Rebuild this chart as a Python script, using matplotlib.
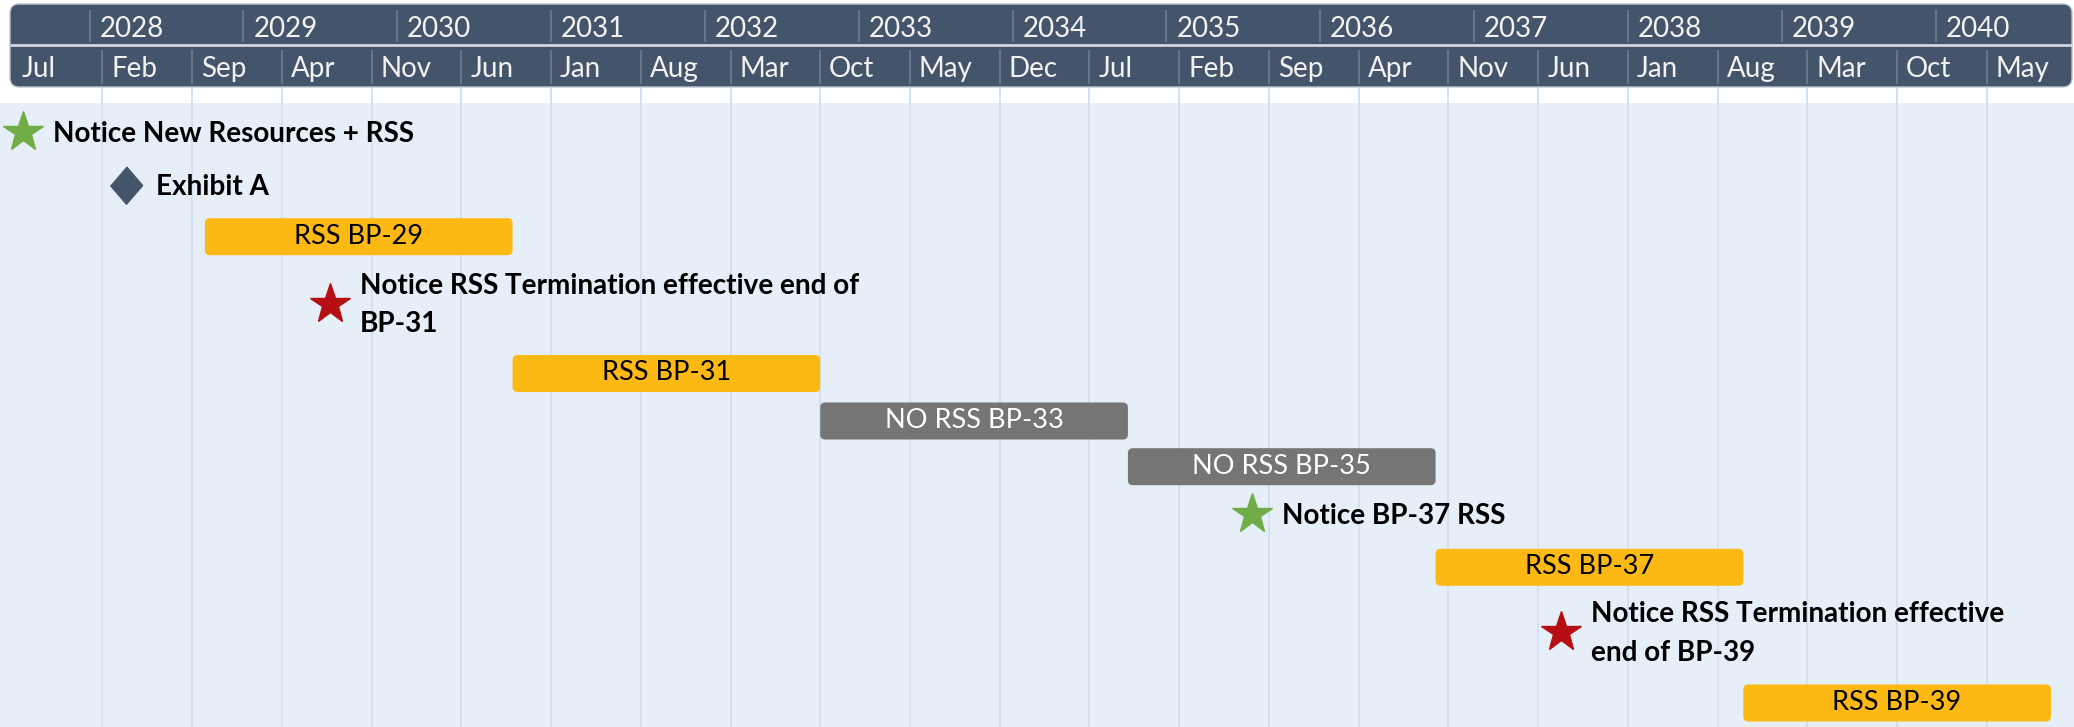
import matplotlib
matplotlib.use("Agg")
import matplotlib.pyplot as plt
from matplotlib.patches import FancyBboxPatch, Rectangle
from calendar import monthrange

plt.rcParams['font.family'] = ['Lato', 'DejaVu Sans']

# ---- data ----
year_labels = ["2028", "2029", "2030", "2031", "2032", "2033", "2034",
               "2035", "2036", "2037", "2038", "2039", "2040"]
month_ticks = ["2027-07", "2028-02", "2028-09", "2029-04", "2029-11", "2030-06",
               "2031-01", "2031-08", "2032-03", "2032-10", "2033-05", "2033-12",
               "2034-07", "2035-02", "2035-09", "2036-04", "2036-11", "2037-06",
               "2038-01", "2038-08", "2039-03", "2039-10", "2040-05"]
month_labels = ["Jul", "Feb", "Sep", "Apr", "Nov", "Jun", "Jan", "Aug", "Mar", "Oct",
                "May", "Dec", "Jul", "Feb", "Sep", "Apr", "Nov", "Jun", "Jan", "Aug",
                "Mar", "Oct", "May"]

bar_labels = ["RSS BP-29", "RSS BP-31", "NO RSS BP-33", "NO RSS BP-35", "RSS BP-37", "RSS BP-39"]
bar_start = ["2028-10-01", "2030-10-01", "2032-10-01", "2034-10-01", "2036-10-01", "2038-10-01"]
bar_end = ["2030-10-01", "2032-10-01", "2034-10-01", "2036-10-01", "2038-10-01", "2040-10-01"]
bar_kind = ["rss", "rss", "none", "none", "rss", "rss"]

ms_labels = ["Notice New Resources + RSS",
             "Exhibit A",
             "Notice RSS Termination effective end of\nBP-31",
             "Notice BP-37 RSS",
             "Notice RSS Termination effective\nend of BP-39"]
ms_dates = ["2027-07-25", "2028-03-28", "2029-07-25", "2035-07-23", "2037-07-25"]
ms_kind = ["go", "exhibit", "stop", "go", "stop"]

# row layout (pixels from top)
bar_y = [236.7, 373.5, 421, 466.7, 567.3, 703]
ms_y = [131.7, 185, 304, 514, 632.3]

hdr_col = '#44546A'
bg_col = '#E6EEF7'
grid_col = '#CFE0F1'
fill = {'rss': '#FDB913', 'none': '#757575'}
txt = {'rss': 'black', 'none': 'white'}
mk = {'go': ('*', '#70AD47'), 'stop': ('*', '#B50F14'), 'exhibit': ('D', hdr_col)}

PX = 12.82  # pixels per month


def to_m(s):
    p = [int(v) for v in s.split('-')]
    d = p[2] if len(p) > 2 else 1
    return (p[0] - 2028) * 12 + (p[1] - 1) + (d - 1) / monthrange(p[0], p[1])[1]


fig = plt.figure(figsize=(20.74, 7.27), dpi=100)
ax = fig.add_axes([0, 0, 1, 1])
x0, x1 = -89.5 / PX, (2074 - 89.5) / PX
ax.set_xlim(x0, x1)
ax.set_ylim(727, 0)
ax.axis('off')

# background + grid
ax.add_patch(Rectangle((x0, 103), x1 - x0, 624, color=bg_col, zorder=0, lw=0))
tick_m = [to_m(t) for t in month_ticks]
ax.vlines(tick_m[1:], 87, 727, color=grid_col, lw=1.3, zorder=1)

# header
hx0, hx1 = (10 - 89.5) / PX, (2072 - 89.5) / PX
ax.add_patch(FancyBboxPatch((hx0, 4), hx1 - hx0, 83,
                            boxstyle=f"round,pad=0,rounding_size={9 / PX}",
                            mutation_aspect=PX, fc=hdr_col, ec='#BFC5CE', lw=1, zorder=3))
ax.hlines(44.5, hx0, hx1, color='#D3D7DD', lw=2, zorder=4)
year_m = [to_m(y + "-01") for y in year_labels]
ax.vlines(year_m, 10, 42, color='#6F7E93', lw=1.2, zorder=4)
ax.vlines(tick_m[1:], 50, 84, color='#6F7E93', lw=1.2, zorder=4)
for m, lab in zip(year_m, year_labels):
    ax.text(m + 10 / PX, 36.7, lab, color='#F2F2F2', fontsize=20, va='baseline', ha='left', zorder=5)
for m, lab in zip(tick_m, month_labels):
    ax.text(m + 9 / PX, 76.7, lab, color='#F2F2F2', fontsize=20, va='baseline', ha='left', zorder=5)

# bars
for lab, s, e, k, y in zip(bar_labels, bar_start, bar_end, bar_kind, bar_y):
    ms_, me_ = to_m(s), to_m(e)
    ax.add_patch(FancyBboxPatch((ms_, y - 18.5), me_ - ms_, 37,
                                boxstyle=f"round,pad=0,rounding_size={5 / PX}",
                                mutation_aspect=PX, fc=fill[k], ec='none', zorder=3))
    ax.text((ms_ + me_) / 2, y + 7, lab, color=txt[k], fontsize=19.5,
            ha='center', va='baseline', zorder=4)

# milestones
for lab, d, k, y in zip(ms_labels, ms_dates, ms_kind, ms_y):
    m = to_m(d)
    marker, col = mk[k]
    if marker == 'D':
        ax.plot(m, y, marker=[(0, 1), (0.86, 0), (0, -1), (-0.86, 0)], ms=27,
                color=col, mec=col, zorder=5)
    else:
        ax.plot(m, y, marker='*', ms=30, color=col, mec=col, zorder=5)
    nlines = lab.count('\n') + 1
    # baseline alignment refers to the last line
    ty = y + 10 + (nlines - 1) * 18.5
    ax.text(m + 30 / PX, ty, lab, fontsize=20.1, fontweight='bold', color='black',
            ha='left', va='baseline', linespacing=1.61, zorder=5)

fig.savefig('out.png', dpi=100)
